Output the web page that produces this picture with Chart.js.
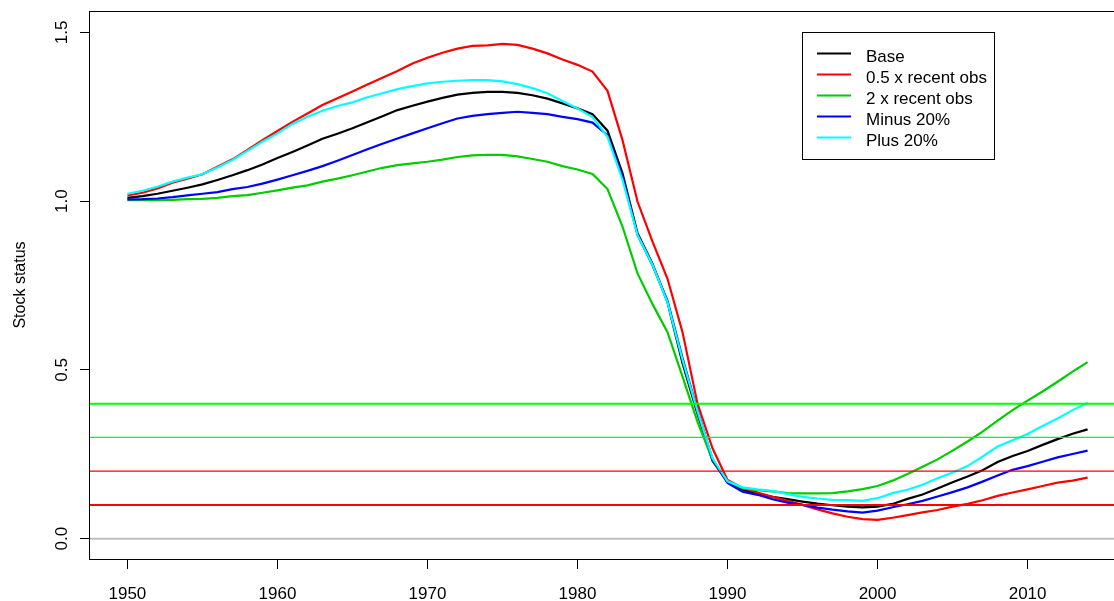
<!DOCTYPE html>
<html>
<head>
<meta charset="utf-8">
<script src="https://cdn.jsdelivr.net/npm/chart.js@4.4.1/dist/chart.umd.min.js"></script>
<style>
  body { margin: 0; background: #fff; }
  #wrap { width: 1114px; height: 601px; overflow: hidden; }
</style>
</head>
<body>
<div id="wrap"><canvas id="stockChart" width="1130" height="601"></canvas></div>
<script>
const firstYear = 1950;
const years = Array.from({ length: 65 }, (_, i) => firstYear + i);

const seriesNames = ['Base', '0.5 x recent obs', '2 x recent obs', 'Minus 20%', 'Plus 20%'];

const base = [
  1.010, 1.015, 1.022, 1.031, 1.040, 1.050, 1.063, 1.077, 1.092, 1.109,
  1.128, 1.146, 1.165, 1.185, 1.200, 1.216, 1.234, 1.252, 1.270, 1.283,
  1.295, 1.306, 1.316, 1.321, 1.324, 1.324, 1.321, 1.314, 1.304, 1.290,
  1.275, 1.258, 1.209, 1.083, 0.905, 0.815, 0.700, 0.520, 0.370, 0.230,
  0.168, 0.145, 0.133, 0.124, 0.117, 0.110, 0.104, 0.099, 0.095, 0.093,
  0.095, 0.103, 0.118, 0.131, 0.149, 0.167, 0.184, 0.203, 0.227, 0.245,
  0.260, 0.278, 0.295, 0.311, 0.324
];
const halfObs = [
  1.017, 1.025, 1.038, 1.055, 1.067, 1.080, 1.102, 1.124, 1.152, 1.181,
  1.208, 1.235, 1.260, 1.285, 1.305, 1.325, 1.346, 1.366, 1.386, 1.408,
  1.425, 1.440, 1.452, 1.460, 1.462, 1.466, 1.463, 1.452, 1.438, 1.420,
  1.404, 1.384, 1.327, 1.181, 0.999, 0.880, 0.770, 0.612, 0.400, 0.268,
  0.174, 0.150, 0.137, 0.124, 0.112, 0.100, 0.087, 0.075, 0.065, 0.058,
  0.056, 0.062, 0.070, 0.078, 0.085, 0.095, 0.103, 0.114, 0.127, 0.137,
  0.146, 0.156, 0.166, 0.172, 0.181
];
const doubleObs = [
  1.003, 1.003, 1.003, 1.004, 1.006, 1.007, 1.010, 1.015, 1.018, 1.025,
  1.032, 1.040, 1.047, 1.058, 1.067, 1.077, 1.088, 1.099, 1.107, 1.112,
  1.117, 1.123, 1.131, 1.136, 1.137, 1.137, 1.133, 1.125, 1.117, 1.104,
  1.094, 1.081, 1.036, 0.925, 0.786, 0.695, 0.612, 0.480, 0.346, 0.233,
  0.170, 0.150, 0.144, 0.140, 0.135, 0.134, 0.134, 0.135, 0.140, 0.147,
  0.156, 0.172, 0.192, 0.213, 0.235, 0.261, 0.288, 0.317, 0.350, 0.381,
  0.409, 0.436, 0.465, 0.495, 0.523
];
const minus20 = [
  1.005, 1.006, 1.008, 1.012, 1.017, 1.022, 1.027, 1.036, 1.042, 1.052,
  1.064, 1.077, 1.090, 1.104, 1.120, 1.137, 1.154, 1.170, 1.186, 1.201,
  1.216, 1.231, 1.245, 1.253, 1.258, 1.262, 1.265, 1.262, 1.258, 1.250,
  1.243, 1.233, 1.196, 1.073, 0.900, 0.810, 0.705, 0.535, 0.380, 0.235,
  0.165, 0.139, 0.130, 0.117, 0.107, 0.100, 0.092, 0.086, 0.081, 0.077,
  0.083, 0.093, 0.102, 0.112, 0.125, 0.138, 0.152, 0.169, 0.187, 0.204,
  0.215, 0.228, 0.241, 0.251, 0.261
];
const plus20 = [
  1.022, 1.031, 1.043, 1.058, 1.070, 1.080, 1.100, 1.122, 1.149, 1.176,
  1.201, 1.229, 1.250, 1.268, 1.282, 1.293, 1.308, 1.320, 1.332, 1.341,
  1.349, 1.354, 1.357, 1.359, 1.359, 1.355, 1.347, 1.335, 1.320, 1.297,
  1.275, 1.249, 1.191, 1.063, 0.900, 0.812, 0.700, 0.530, 0.378, 0.238,
  0.170, 0.152, 0.146, 0.142, 0.132, 0.124, 0.119, 0.115, 0.114, 0.112,
  0.120, 0.135, 0.145, 0.160, 0.179, 0.196, 0.215, 0.243, 0.273, 0.292,
  0.310, 0.334, 0.356, 0.381, 0.403
];

// reference levels drawn as horizontal lines
const refLevels = [0, 0.1, 0.2, 0.3, 0.4];

const xTicks = [1950, 1960, 1970, 1980, 1990, 2000, 2010];
const yTicks = [0, 0.5, 1, 1.5];
const yTickLabels = ['0.0', '0.5', '1.0', '1.5'];

// styles
const seriesColours = ['#000000', '#ff0000', '#00cd00', '#0000ff', '#00ffff'];
const refColours = ['#bebebe', '#ff0000', '#ff0000', '#00ff00', '#00ff00'];
const refWidths = [2, 2, 1.3, 1.3, 2];
const FONT = '"Liberation Sans", Arial, Helvetica, sans-serif';

const allSeries = [base, halfObs, doubleObs, minus20, plus20];
const datasets = allSeries.map((vals, i) => ({
  label: seriesNames[i],
  data: vals.map((v, j) => ({ x: years[j], y: v })),
  borderColor: seriesColours[i],
  backgroundColor: seriesColours[i],
  borderWidth: 2.2,
  pointRadius: 0,
  tension: 0,
  fill: false,
  order: allSeries.length - i   // later series drawn on top
}));

// horizontal reference lines, drawn over the curves
const refLinesPlugin = {
  id: 'refLines',
  afterDatasetsDraw(chart) {
    const { ctx, chartArea, scales } = chart;
    ctx.save();
    ctx.beginPath();
    ctx.rect(chartArea.left, chartArea.top, chartArea.right - chartArea.left, chartArea.bottom - chartArea.top);
    ctx.clip();
    refLevels.forEach((lvl, i) => {
      const y = scales.y.getPixelForValue(lvl);
      ctx.strokeStyle = refColours[i];
      ctx.lineWidth = refWidths[i];
      ctx.beginPath();
      ctx.moveTo(chartArea.left, y);
      ctx.lineTo(chartArea.right, y);
      ctx.stroke();
    });
    ctx.restore();
  }
};

// box, rotated y labels, axis title and the legend
const decorPlugin = {
  id: 'decor',
  afterDraw(chart) {
    const { ctx, chartArea, scales } = chart;
    ctx.save();
    ctx.strokeStyle = '#000';
    ctx.lineWidth = 1;
    ctx.strokeRect(chartArea.left + 0.5, chartArea.top + 0.5,
      chartArea.right - chartArea.left, chartArea.bottom - chartArea.top);

    ctx.fillStyle = '#000';
    ctx.font = '17px ' + FONT;
    ctx.textAlign = 'center';
    ctx.textBaseline = 'alphabetic';
    yTicks.forEach((v, i) => {
      const y = scales.y.getPixelForValue(v);
      ctx.save();
      ctx.translate(67, y);
      ctx.rotate(-Math.PI / 2);
      ctx.fillText(yTickLabels[i], 0, 0);
      ctx.restore();
    });

    ctx.save();
    ctx.font = '16px ' + FONT;
    ctx.translate(25, (chartArea.top + chartArea.bottom) / 2);
    ctx.rotate(-Math.PI / 2);
    ctx.fillText('Stock status', 0, 0);
    ctx.restore();

    // legend
    const bx = 802, by = 32, bw = 192, bh = 127;
    ctx.fillStyle = '#fff';
    ctx.fillRect(bx, by, bw, bh);
    ctx.strokeStyle = '#000';
    ctx.lineWidth = 1;
    ctx.strokeRect(bx + 0.5, by + 0.5, bw, bh);
    ctx.font = '17px ' + FONT;
    ctx.textAlign = 'left';
    chart.data.datasets.forEach((ds, i) => {
      const ry = 53.5 + i * 21;
      ctx.strokeStyle = ds.borderColor;
      ctx.lineWidth = 2.2;
      ctx.beginPath();
      ctx.moveTo(817, ry);
      ctx.lineTo(851, ry);
      ctx.stroke();
      ctx.fillStyle = '#000';
      ctx.fillText(ds.label, 866, ry + 8);
    });
    ctx.restore();
  }
};

new Chart(document.getElementById('stockChart'), {
  type: 'line',
  data: { datasets },
  options: {
    responsive: false,
    animation: false,
    parsing: true,
    layout: { padding: { top: 11, right: 4, left: 0, bottom: 0 } },
    plugins: { legend: { display: false }, tooltip: { enabled: false } },
    scales: {
      x: {
        type: 'linear',
        min: 1947.44,
        max: 2016.56,
        afterBuildTicks: (s) => { s.ticks = xTicks.map(v => ({ value: v })); },
        afterFit: (s) => { s.height = 42; },
        grid: { drawOnChartArea: false, drawTicks: true, tickLength: 10, color: '#000', lineWidth: 1 },
        border: { display: false },
        ticks: {
          color: '#000',
          font: { size: 17, family: FONT },
          padding: 15,
          maxRotation: 0,
          callback: (v) => String(v)
        }
      },
      y: {
        type: 'linear',
        min: -0.0602,
        max: 1.5636,
        afterBuildTicks: (s) => { s.ticks = yTicks.map(v => ({ value: v })); },
        afterFit: (s) => { s.width = 89; },
        grid: { drawOnChartArea: false, drawTicks: true, tickLength: 9, color: '#000', lineWidth: 1 },
        border: { display: false },
        ticks: { display: false }
      }
    }
  },
  plugins: [refLinesPlugin, decorPlugin]
});
</script>
</body>
</html>
